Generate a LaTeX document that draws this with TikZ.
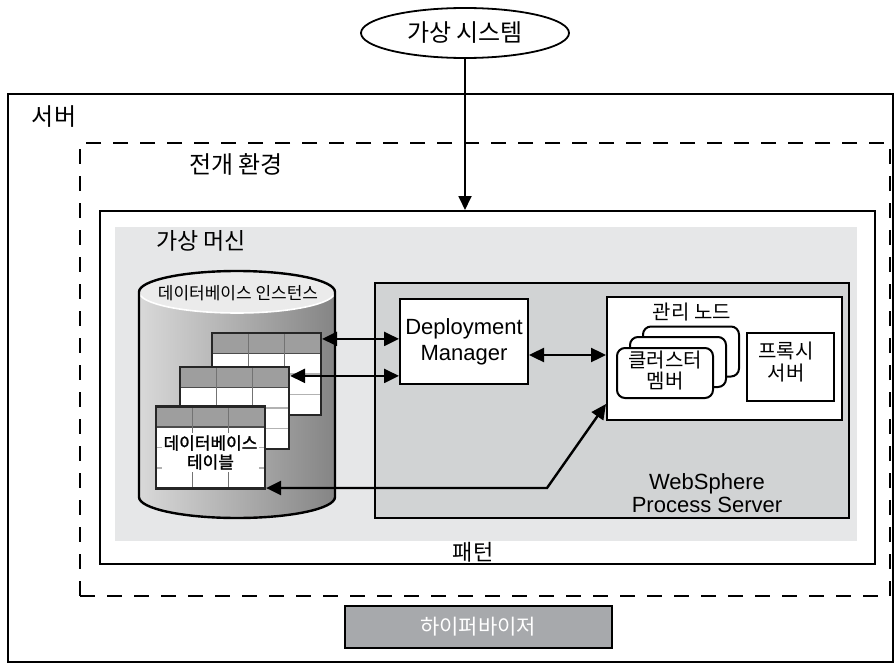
\documentclass[tikz,border=0pt]{standalone}
\usepackage{fontspec}
\setmainfont{Liberation Sans}
\newfontfamily\kr{Noto Sans CJK KR}
\newfontfamily\krbold[FakeBold=1.5]{Noto Sans CJK KR}
\usetikzlibrary{arrows.meta, shapes.geometric}
\definecolor{vmgray}{HTML}{E6E7E8}
\definecolor{wpsgray}{HTML}{D1D3D4}
\definecolor{hypgray}{HTML}{A7A9AC}

\begin{document}
\begin{tikzpicture}[
        x=0.5pt, y=-0.5pt, % pixel grid of the drawing
        box/.style={draw, line width=1pt, inner sep=0pt}, % plain boxes
        krbig/.style={font=\kr\fontsize{12}{14}\selectfont, inner sep=0pt},
        krmid/.style={font=\kr\fontsize{10.5}{11.5}\selectfont, align=center, inner sep=0pt},
        krsmall/.style={font=\kr\fontsize{8.5}{9.5}\selectfont, inner sep=0pt},
        member/.style={draw, line width=1pt, fill=white, rounded corners=4pt, minimum width=48pt, minimum height=25pt}, % cluster member cards
        tablebox/.style={draw=black!85, line width=1.1pt, fill=white, minimum width=54.5pt, minimum height=41pt, inner sep=0pt,
            path picture={
                \begin{scope}[shift={(path picture bounding box.center)}]
                    \fill[black!38] (-27.25pt,20.5pt) rectangle (27.25pt,10.25pt);
                    \draw[black!30, line width=0.6pt] (-27.25pt,0pt) -- (27.25pt,0pt) (-27.25pt,-10.25pt) -- (27.25pt,-10.25pt);
                    \draw[black!70, line width=0.7pt] (-27.25pt,10.25pt) -- (27.25pt,10.25pt);
                    \draw[black!55, line width=0.7pt] (-9.08pt,20.5pt) -- (-9.08pt,-20.5pt) (9.08pt,20.5pt) -- (9.08pt,-20.5pt);
                \end{scope}}}, % database table with grid
        arr/.style={-{Triangle[length=7pt, width=6.5pt]}, line width=0.9pt},
        dbl/.style={{Triangle[length=7.5pt, width=7pt]}-{Triangle[length=7.5pt, width=7pt]}, line width=1.2pt}
        ]

        \useasboundingbox (0,0) rectangle (895,664);

        % Define frames
        \node (sys) [draw, ellipse, line width=0.9pt, minimum width=104pt, minimum height=25pt, krbig] at (465,33) {가상 시스템};
        \node (server) [box, line width=0.8pt, minimum width=442.5pt, minimum height=284pt] at (450.5,378) {};
        \node (deploy) [box, line width=1.2pt, dash pattern=on 7.5pt off 6pt, minimum width=405pt, minimum height=226.5pt] at (485,369.5) {};
        \node (pattern) [box, minimum width=387.5pt, minimum height=176.5pt] at (487.5,387.5) {};
        \node (vm) [fill=vmgray, inner sep=0pt, minimum width=371pt, minimum height=157pt] at (486,384) {};

        \node (serverlbl) [krbig] at (54,117) {서버};
        \node (deploylbl) [krbig] at (236,164) {전개 환경};
        \node (vmlbl) [krbig, font=\kr\fontsize{11.5}{13}\selectfont] at (201,241) {가상 머신};
        \node (patternlbl) [krmid, font=\kr\fontsize{11}{12}\selectfont] at (473,552) {패턴};

        % Database instance
        \shade[left color=black!15, right color=black!48] (139,292) -- (139,497) arc[start angle=180, end angle=360, x radius=49pt, y radius=10.5pt] -- (335,292) -- cycle;
        \fill[black!8] (237,292) ellipse [x radius=49pt, y radius=10.5pt];
        \draw[white, line width=0.8pt] (139,292) arc[start angle=180, end angle=360, x radius=49pt, y radius=10.5pt];
        \draw[line width=1.2pt] (139,292) -- (139,497) arc[start angle=180, end angle=360, x radius=49pt, y radius=10.5pt] -- (335,292) arc[start angle=0, end angle=180, x radius=49pt, y radius=10.5pt];
        \node (dblbl) [krsmall] at (238,293) {데이터베이스 인스턴스};

        \node (tab1) [tablebox] at (266.5,374) {};
        \node (tab2) [tablebox] at (234.5,408) {};
        \node (tab3) [tablebox] at (210.5,447.5) {};
        \node (tab3lbl) [font=\krbold\fontsize{8.5}{9.5}\selectfont, fill=white, inner sep=1pt, align=center] at (210.5,452.5) {데이터베이스\\테이블};

        % WebSphere Process Server
        \node (wps) [box, fill=wpsgray, minimum width=237pt, minimum height=117.5pt] at (612,400.5) {};
        \node (wpslbl) [font=\fontsize{11}{11.5}\selectfont, align=center, inner sep=0pt] at (707,493) {WebSphere\\Process Server};
        \node (dm) [box, fill=white, minimum width=64pt, minimum height=42.5pt, font=\fontsize{11}{13}\selectfont, align=center] at (464,341.5) {Deployment\\Manager};
        \node (mgmt) [box, fill=white, minimum width=117.5pt, minimum height=61.5pt] at (724.5,358.5) {};
        \node (mgmtlbl) [krmid, font=\kr\fontsize{10}{11}\selectfont] at (692,312) {관리 노드};
        \node (mem3) [member] at (691,351.5) {};
        \node (mem2) [member] at (678,362) {};
        \node (mem1) [member] at (665,373) {};
        \node (mem1lbl) [krmid, font=\kr\fontsize{10}{10.5}\selectfont] at (665,371) {클러스터\\멤버};
        \node (proxy) [box, fill=white, minimum width=43.5pt, minimum height=34pt] at (790.5,367) {};
        \node (proxylbl) [krmid, font=\kr\fontsize{10}{11}\selectfont] at (786,362) {프록시\\서버};

        \node (hyp) [box, fill=hypgray, text=white, krmid, minimum width=133.5pt, minimum height=21pt] at (478,627) {하이퍼바이저};

        % Draw arrows
        \coordinate (a1) at ([yshift=-3.5pt]tab1.north east);
        \coordinate (a2) at ([yshift=-5pt]tab2.north east);
        \coordinate (a3) at ([yshift=-6.75pt]dm.east);
        \coordinate (a4) at ([yshift=8.5pt]mgmt.south west);
        \coordinate (bend) at (547,488);

        \draw[arr] (sys) -- (sys |- pattern.north);
        \draw[dbl] (a1) -- (a1 -| dm.west);
        \draw[dbl] (a2) -- (a2 -| dm.west);
        \draw[dbl] (a3) -- (a3 -| mgmt.west);
        \draw[dbl] (a4) -- (bend) -- (bend -| tab3.east);

\end{tikzpicture}
\end{document}
